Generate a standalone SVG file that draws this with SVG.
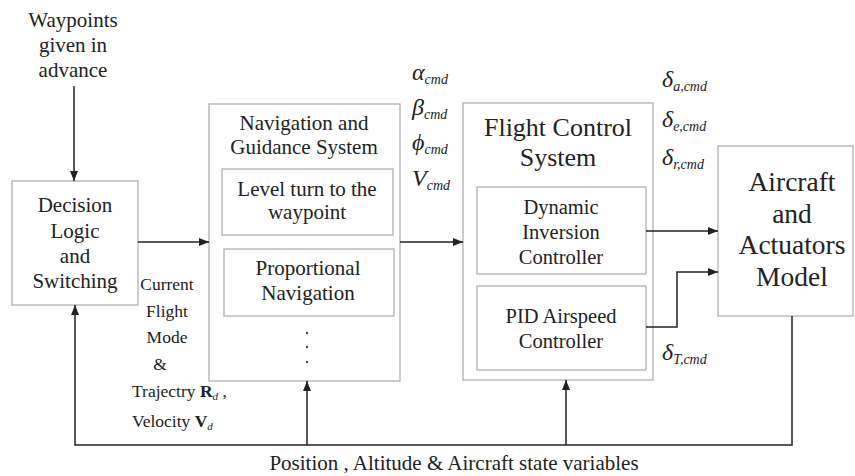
<svg xmlns="http://www.w3.org/2000/svg" width="855" height="476" viewBox="0 0 855 476">
<style>
text{font-family:"Liberation Serif","Times New Roman",serif;fill:#222}
.box{fill:none;stroke:#aaa;stroke-width:1.2}
.ln{fill:none;stroke:#222;stroke-width:1.5}
.c{text-anchor:middle}
.sym{font-style:italic;font-size:24px}
.sub{font-style:italic;font-size:14px}
.lbl{font-size:17.5px}
.n{font-size:21px}
.f{font-size:20.5px}
.a{font-size:27.5px}
</style>
<defs>
<marker id="ah" markerWidth="10" markerHeight="8" refX="10" refY="4" orient="auto" markerUnits="userSpaceOnUse">
<path d="M0,0 L10,4 L0,8 Z" fill="#222"/>
</marker>
</defs>
<rect width="855" height="476" fill="#fff"/>
<g id="waypoints">
<text class="c n" x="73" y="27">Waypoints</text>
<text class="c n" x="73" y="52">given in</text>
<text class="c n" x="73" y="77">advance</text>
</g>
<g id="decision">
<rect class="box" x="12" y="181" width="126" height="124"/>
<text class="c n" x="75" y="212">Decision</text>
<text class="c n" x="75" y="238">Logic</text>
<text class="c n" x="75" y="263">and</text>
<text class="c n" x="75" y="288">Switching</text>
</g>
<g id="navigation">
<rect class="box" x="209" y="104" width="191" height="277"/>
<text class="c n" x="304" y="130">Navigation and</text>
<text class="c n" x="304" y="154">Guidance System</text>
<rect class="box" x="222" y="169" width="171" height="66"/>
<text class="c n" x="307" y="196">Level turn to the</text>
<text class="c n" x="307" y="219">waypoint</text>
<rect class="box" x="224" y="249" width="170" height="67"/>
<text class="c n" x="308" y="275">Proportional</text>
<text class="c n" x="308" y="300">Navigation</text>
<circle cx="307" cy="333" r="1.2" fill="#444"/>
<circle cx="307" cy="347" r="1.2" fill="#444"/>
<circle cx="307" cy="362" r="1.2" fill="#444"/>
</g>
<g id="fcs">
<rect class="box" x="463" y="103" width="190" height="277"/>
<text class="c" x="558" y="136" font-size="26">Flight Control</text>
<text class="c" x="558" y="166" font-size="26">System</text>
<rect class="box" x="477" y="187" width="169" height="87"/>
<text class="c f" x="561" y="214">Dynamic</text>
<text class="c f" x="561" y="239">Inversion</text>
<text class="c f" x="561" y="264">Controller</text>
<rect class="box" x="477" y="286" width="169" height="84"/>
<text class="c f" x="561" y="323">PID Airspeed</text>
<text class="c f" x="561" y="348">Controller</text>
</g>
<g id="aircraft">
<rect class="box" x="718" y="146" width="135" height="170"/>
<text class="c a" x="792" y="191">Aircraft</text>
<text class="c a" x="792" y="223">and</text>
<text class="c a" x="792" y="254">Actuators</text>
<text class="c a" x="792" y="286">Model</text>
</g>
<g id="connectors">
<line class="ln" x1="74" y1="86" x2="74" y2="181" marker-end="url(#ah)"/>
<line class="ln" x1="138" y1="242" x2="209" y2="242" marker-end="url(#ah)"/>
<line class="ln" x1="400" y1="242" x2="463" y2="242" marker-end="url(#ah)"/>
<line class="ln" x1="646" y1="231" x2="718" y2="231" marker-end="url(#ah)"/>
<polyline class="ln" points="646,327 677,327 677,272 718,272" marker-end="url(#ah)"/>
<polyline class="ln" points="792,316 792,445 75,445 75,305" marker-end="url(#ah)"/>
<line class="ln" x1="307" y1="445" x2="307" y2="381" marker-end="url(#ah)"/>
<line class="ln" x1="566" y1="445" x2="566" y2="380" marker-end="url(#ah)"/>
</g>
<g id="labels">
<text x="412" y="80"><tspan class="sym">α</tspan><tspan class="sub" dy="4">cmd</tspan></text>
<text x="412" y="115"><tspan class="sym">β</tspan><tspan class="sub" dy="4">cmd</tspan></text>
<text x="412" y="150"><tspan class="sym">ϕ</tspan><tspan class="sub" dy="4">cmd</tspan></text>
<text x="412" y="186"><tspan class="sym">V</tspan><tspan class="sub" dy="4">cmd</tspan></text>
<text x="662" y="87"><tspan class="sym">δ</tspan><tspan class="sub" dy="4">a,cmd</tspan></text>
<text x="662" y="127"><tspan class="sym">δ</tspan><tspan class="sub" dy="4">e,cmd</tspan></text>
<text x="662" y="165"><tspan class="sym">δ</tspan><tspan class="sub" dy="4">r,cmd</tspan></text>
<text x="662" y="360"><tspan class="sym">δ</tspan><tspan class="sub" dy="4">T,cmd</tspan></text>
<text class="c lbl" x="167" y="290">Current</text>
<text class="c lbl" x="167" y="317">Flight</text>
<text class="c lbl" x="167" y="343">Mode</text>
<text class="c lbl" x="160" y="370">&amp;</text>
<text class="lbl" x="132" y="397">Trajectry <tspan font-weight="bold">R</tspan><tspan font-size="11" font-style="italic" dy="3">d</tspan><tspan dy="-3"> ,</tspan></text>
<text class="lbl" x="132" y="427">Velocity <tspan font-weight="bold">V</tspan><tspan font-size="11" font-style="italic" dy="3">d</tspan></text>
<text class="c" x="454" y="470" font-size="21">Position , Altitude &amp; Aircraft state variables</text>
</g>
</svg>
